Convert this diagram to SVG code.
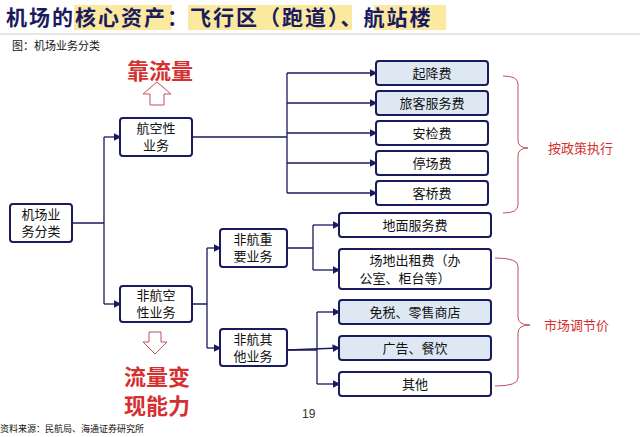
<svg xmlns="http://www.w3.org/2000/svg" width="640" height="437" viewBox="0 0 640 437">
<defs>
<marker id="ar" markerWidth="6" markerHeight="6" refX="5" refY="3" orient="auto"><path d="M0,0L6,3L0,6z" fill="#1a1a5e"/></marker>
<style>
text{font-family:"Liberation Serif","Noto Sans CJK SC",serif;fill:#111}
.b rect{fill:#fff;stroke:#1a1a5e;stroke-width:2}
.b.f rect{fill:#dde8f3}
.b text{font-size:13px;text-anchor:middle}
.c path{fill:none;stroke:#1a1a5e;stroke-width:1.3}
.c path.a{marker-end:url(#ar)}
.br{fill:none;stroke:#c05060;stroke-width:1}
</style>
</defs>
<rect width="640" height="437" fill="#fff"/>
<rect x="74" y="5" width="98" height="25" fill="#fbe9a0"/>
<rect x="188" y="5" width="164" height="25" fill="#fbe9a0"/>
<rect x="374" y="5" width="72" height="25" fill="#fbe9a0"/>
<text x="6" y="25" font-size="21" font-weight="bold" letter-spacing="2" style="fill:#1a1a5e">机场的核心资产：飞行区（跑道）、航站楼</text>
<line x1="0" y1="34" x2="640" y2="34" stroke="#ccc"/>
<text x="12" y="50" font-size="11">图：机场业务分类</text>
<text x="127" y="79" font-size="22" style="fill:#d43030;font-weight:bold">靠流量</text>
<path d="M150,105V94H143L157,82L171,94H164V105Z" fill="none" stroke="#c05060"/>
<path d="M149,332V342H143L155,354L167,342H161V332Z" fill="none" stroke="#c05060"/>
<text x="124" y="385" font-size="22" style="fill:#d43030;font-weight:bold">流量变</text>
<text x="124" y="414" font-size="22" style="fill:#d43030;font-weight:bold">现能力</text>
<g class="c">
<path d="M72,223H104M104,137V304"/><path class="a" d="M104,137H120"/><path class="a" d="M104,304H120"/>
<path d="M192,137H287M287,73V193"/>
<path class="a" d="M287,73H376"/><path class="a" d="M287,103H376"/><path class="a" d="M287,133H376"/><path class="a" d="M287,163H376"/><path class="a" d="M287,193H376"/>
<path d="M192,304H207M207,248V348"/><path class="a" d="M207,248H220"/><path class="a" d="M207,348H220"/>
<path d="M287,248H313M313,225V270"/><path class="a" d="M313,225H339"/><path class="a" d="M313,270H339"/>
<path d="M287,350H317M317,312V384"/><path class="a" d="M317,312H339"/><path class="a" d="M287,350L339,348"/><path class="a" d="M317,384H339"/>
</g>
<g id="n0" class="b"><rect x="10" y="204" width="62" height="38" rx="3"/><text x="41" y="219">机场业</text><text x="41" y="236">务分类</text></g>
<g id="n1" class="b"><rect x="120" y="118" width="72" height="38" rx="3"/><text x="156" y="133">航空性</text><text x="156" y="150">业务</text></g>
<g id="n2" class="b"><rect x="120" y="286" width="72" height="36" rx="3"/><text x="156" y="300">非航空</text><text x="156" y="317">性业务</text></g>
<g id="n3" class="b"><rect x="220" y="229" width="67" height="38" rx="3"/><text x="253" y="244">非航重</text><text x="253" y="261">要业务</text></g>
<g id="n4" class="b"><rect x="220" y="329" width="67" height="37" rx="3"/><text x="253" y="344">非航其</text><text x="253" y="361">他业务</text></g>
<g id="n5" class="b f"><rect x="376" y="61" width="112" height="24" rx="3"/><text x="432" y="78">起降费</text></g>
<g id="n6" class="b f"><rect x="376" y="91" width="112" height="24" rx="3"/><text x="432" y="108">旅客服务费</text></g>
<g id="n7" class="b"><rect x="376" y="121" width="112" height="24" rx="3"/><text x="432" y="138">安检费</text></g>
<g id="n8" class="b"><rect x="376" y="151" width="112" height="24" rx="3"/><text x="432" y="168">停场费</text></g>
<g id="n9" class="b"><rect x="376" y="181" width="112" height="24" rx="3"/><text x="432" y="198">客桥费</text></g>
<g id="n10" class="b"><rect x="339" y="213" width="152" height="24" rx="3"/><text x="415" y="230">地面服务费</text></g>
<g id="n11" class="b"><rect x="339" y="249" width="152" height="40" rx="3"/><text x="415" y="265">场地出租费（办</text><text x="405" y="283">公室、柜台等）</text></g>
<g id="n12" class="b f"><rect x="339" y="300" width="152" height="24" rx="3"/><text x="415" y="317">免税、零售商店</text></g>
<g id="n13" class="b f"><rect x="339" y="336" width="152" height="24" rx="3"/><text x="415" y="353">广告、餐饮</text></g>
<g id="n14" class="b"><rect x="339" y="372" width="152" height="24" rx="3"/><text x="415" y="389">其他</text></g>
<path class="br" d="M503,76Q518,76 518,84V140Q518,148 528,148Q518,148 518,156V205Q518,213 503,213"/>
<text x="548" y="153" font-size="13" style="fill:#d43030">按政策执行</text>
<path class="br" d="M495,258Q518,258 518,266V317Q518,325 530,325Q518,325 518,333V378Q518,386 495,386"/>
<text x="544" y="330" font-size="13" style="fill:#d43030">市场调节价</text>
<text x="302" y="418" font-size="12" style="font-family:'Liberation Sans',sans-serif;fill:#333">19</text>
<text x="0" y="432" font-size="9">资料来源：民航局、海通证券研究所</text>
</svg>
